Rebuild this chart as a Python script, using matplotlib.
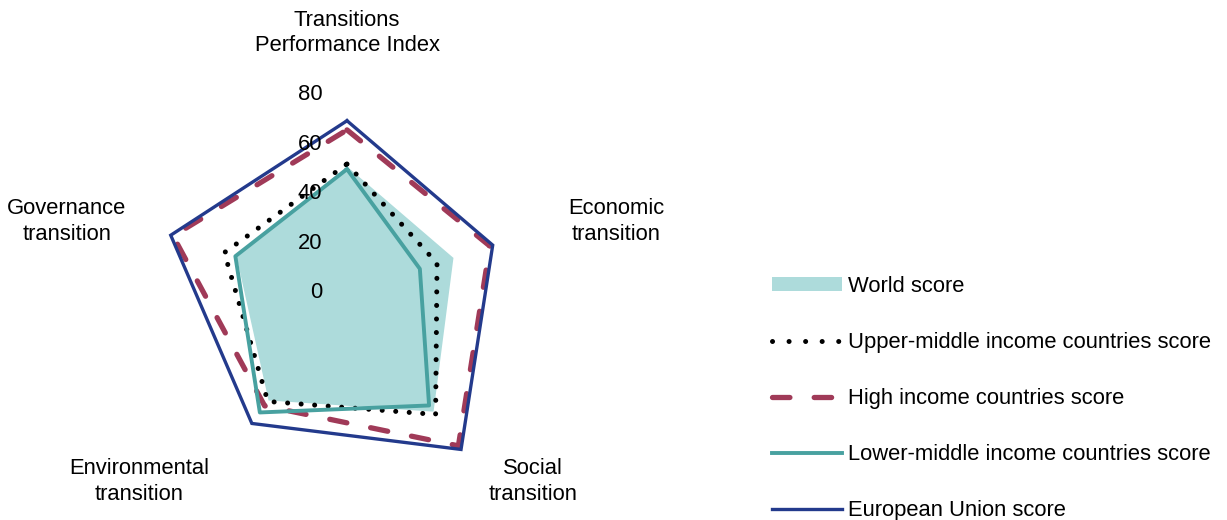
import numpy as np
import matplotlib
matplotlib.use('Agg')
import matplotlib.pyplot as plt
from matplotlib.patches import Patch
from matplotlib.lines import Line2D
from matplotlib.transforms import offset_copy

plt.rcParams['font.family'] = ['Liberation Sans', 'DejaVu Sans']

# axes of the radar, clockwise from the top
categories = ['Transitions\nPerformance Index', 'Economic\ntransition', 'Social\ntransition',
              'Environmental\ntransition', 'Governance\ntransition']

world = [51, 45.3, 59.6, 54, 47]
upper_middle = [52, 38.3, 61, 54.5, 52.2]
high_income = [65.8, 60.8, 76.7, 56.7, 74]
lower_middle = [49.9, 31, 56.5, 60, 47.5]
eu = [69.5, 62, 78.5, 65.5, 75]

r_ticks = [0, 20, 40, 60, 80]

c_fill = '#addbdb'
c_teal = '#48a1a0'
c_high = '#a03a58'
c_eu = '#233a8c'

fs = 15.8
dotted = (0, (0.01, 2.7))
dashed = (0, (3.3, 4.6))

W, H = 1227, 520
fig = plt.figure(figsize=(W / 100, H / 100), dpi=100)
ax = fig.add_axes([149.3 / W, 29.8 / H, 395.4 / W, 395.4 / H], projection='polar')
ax.set_theta_offset(np.pi / 2)
ax.set_theta_direction(-1)

angles = np.linspace(0, 2 * np.pi, len(categories), endpoint=False)
theta = np.append(angles, angles[0])

def closed(vals):
    return np.append(vals, vals[0])

ax.fill(theta, closed(world), color=c_fill, lw=0, zorder=1)
ax.plot(theta, closed(high_income), color=c_high, lw=3.8, linestyle=dashed,
        dash_capstyle='round', zorder=2)
ax.plot(theta, closed(upper_middle), color='black', lw=3.6, linestyle=dotted,
        dash_capstyle='round', zorder=3)
ax.plot(theta, closed(lower_middle), color=c_teal, lw=2.8, zorder=4)
ax.plot(theta, closed(eu), color=c_eu, lw=2.4, zorder=5, solid_joinstyle='miter')

ax.set_ylim(0, 80)
ax.set_xticks([])
ax.set_yticks([])
ax.grid(False)
ax.spines['polar'].set_visible(False)
ax.patch.set_alpha(0)

# value labels to the left of the vertical axis
lab_tr = offset_copy(ax.transData, fig=fig, x=-24.5, y=0, units='dots')
for v in r_ticks:
    ax.text(0, v, str(v), transform=lab_tr, ha='right', va='center', fontsize=fs, zorder=6)

# category labels (pixel centres)
label_pos = [(347, 33), (616, 221.5), (533, 481.5), (139, 481.5), (67, 221.5)]
for name, (px, py) in zip(categories, label_pos):
    fig.text(px / W, 1 - py / H, name, ha='center', va='center', multialignment='center',
             fontsize=fs, linespacing=1.3)

handles = [
    Patch(facecolor=c_fill, edgecolor='none'),
    Line2D([], [], color='black', lw=3.6, linestyle=(0, (0.01, 3.3)), dash_capstyle='round'),
    Line2D([], [], color=c_high, lw=3.8, linestyle=dashed, dash_capstyle='round'),
    Line2D([], [], color=c_teal, lw=2.8),
    Line2D([], [], color=c_eu, lw=2.4),
]
labels = ['World score', 'Upper-middle income countries score', 'High income countries score',
          'Lower-middle income countries score', 'European Union score']
fig.legend(handles, labels, loc='center left', bbox_to_anchor=(772 / W, 1 - 398.5 / H),
           frameon=False, fontsize=fs, handlelength=3.2, handleheight=0.55,
           handletextpad=0.27, labelspacing=1.6, borderpad=0, borderaxespad=0)

plt.savefig('out.png', dpi=100)
